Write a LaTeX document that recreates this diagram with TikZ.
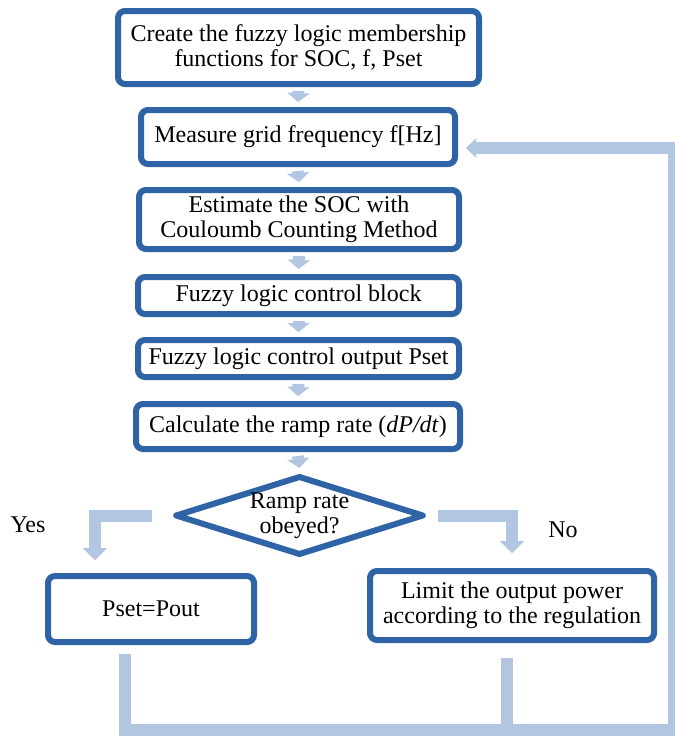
\documentclass[tikz,border=0pt]{standalone}
\usepackage{fontspec}
\setmainfont{Liberation Serif}
\usetikzlibrary{arrows.meta,shapes.geometric,calc}
\definecolor{boxblue}{RGB}{46,100,165}
\definecolor{arrowblue}{RGB}{178,197,225}
\begin{document}
\begin{tikzpicture}[x=1pt,y=-1pt,
  txt/.style={font=\fontsize{24}{25.5}\selectfont},
  box/.style={txt, draw=boxblue, line width=6pt, rounded corners=7pt, fill=white, align=center, inner sep=0pt},
  flow/.style={draw=arrowblue, line width=12pt, line join=miter},
  dtip/.style={-{Triangle[width=22pt,length=9pt,line width=0.01pt]}},
  btip/.style={-{Triangle[width=24pt,length=12pt,line width=0.01pt]}},
  ftip/.style={-{Triangle[width=19pt,length=10pt,line width=0.01pt]}},
  lbl/.style={txt, inner sep=0pt}]
\useasboundingbox (0,0) rectangle (675,737);

\node[box, minimum width=361pt, minimum height=73pt] (b1) at (298.5,47.5) {Create the fuzzy logic membership\\functions for SOC, f, Pset};
\node[box, minimum width=314pt, minimum height=54pt] (b2) at (298,137) {Measure grid frequency f[Hz]};
\node[box, minimum width=320pt, minimum height=59pt] (b3) at (299,219.5) {Estimate the SOC with\\Couloumb Counting Method};
\node[box, minimum width=321pt, minimum height=37pt] (b4) at (298.5,295.5) {Fuzzy logic control block};
\node[box, minimum width=321pt, minimum height=37pt] (b5) at (298.5,358.5) {Fuzzy logic control output Pset};
\node[box, minimum width=324pt, minimum height=45pt] (b6) at (298,426.5) {Calculate the ramp rate (\textit{dP/dt})};
\node[txt, draw=boxblue, line width=6pt, line join=round, diamond, aspect=3, minimum width=249pt, minimum height=79pt, inner sep=0pt, align=center] (dia) at (299.5,515.5) {Ramp rate\\obeyed?};
\node[box, minimum width=206pt, minimum height=66pt] (b7) at (151,609) {Pset=Pout};
\node[box, minimum width=284pt, minimum height=69pt] (b8) at (512,605.5) {Limit the output power\\according to the regulation};

\node[lbl] (yes) at (28,525) {Yes};
\node[lbl] (no) at (563,530) {No};

\draw[flow, dtip] ([yshift=-4pt]b1.south) -- ([yshift=5pt]b2.north);
\draw[flow, dtip] ([yshift=-4pt]b2.south) -- ([yshift=5pt]b3.north);
\draw[flow, dtip] ([yshift=-4pt]b3.south) -- ([yshift=5pt]b4.north);
\draw[flow, dtip] ([yshift=-4pt]b4.south) -- ([yshift=5pt]b5.north);
\draw[flow, dtip] ([yshift=-4pt]b5.south) -- ([yshift=5pt]b6.north);
\draw[flow, dtip] ([yshift=-4pt]b6.south) -- ([yshift=5pt]dia.north);

\coordinate (yesend) at (95,560);
\coordinate (noend) at (512,553);
\draw[flow, btip] ([xshift=-20pt]dia.west) -| (yesend);
\draw[flow, btip] ([xshift=11pt]dia.east) -| (noend);

\coordinate (bl) at (125,730);
\coordinate (br) at (674,730);
\coordinate (tr) at (674,148);
\coordinate (b8b) at (507,730);
\draw[flow, ftip] ([xshift=-26pt,yshift=-9pt]b7.south) -- (bl) -- (br) -- (tr) -- ($(b2.east |- tr)+(8,0)$);
\draw[flow] ([xshift=-5pt,yshift=-15pt]b8.south) -- (b8b);
\end{tikzpicture}
\end{document}
